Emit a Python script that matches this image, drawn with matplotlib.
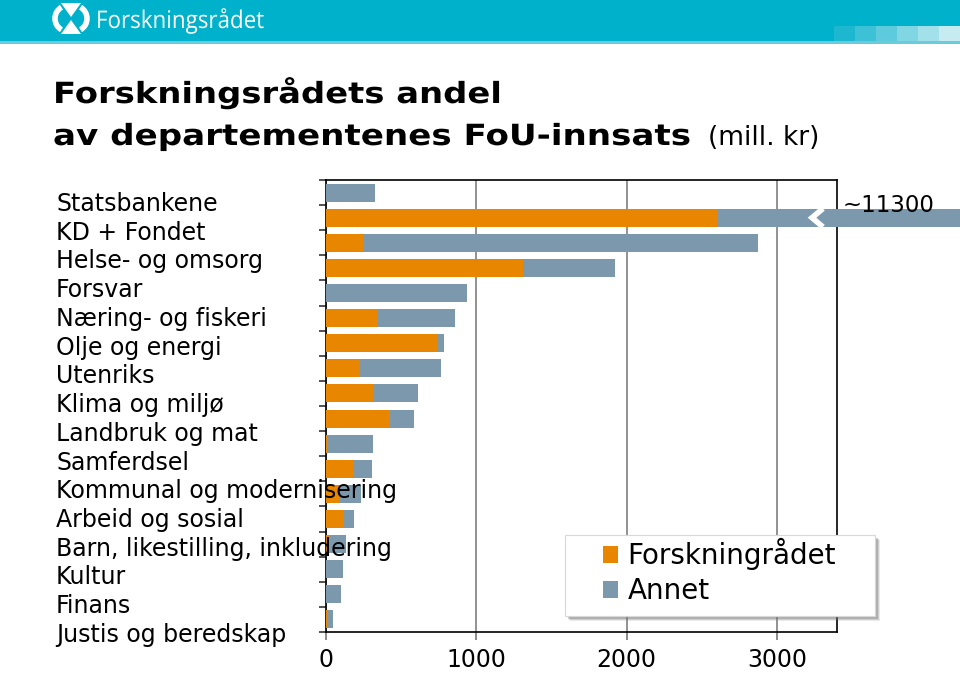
import matplotlib
matplotlib.use("Agg")
import matplotlib.pyplot as plt
import numpy as np
from matplotlib.patches import Rectangle, Polygon, Arc
from matplotlib.patheffects import AbstractPathEffect
from matplotlib.transforms import Affine2D

# ---------------- data ----------------
labels = ["Statsbankene", "KD + Fondet", "Helse- og omsorg", "Forsvar",
          "Næring- og fiskeri", "Olje og energi", "Utenriks", "Klima og miljø",
          "Landbruk og mat", "Samferdsel", "Kommunal og modernisering",
          "Arbeid og sosial", "Barn, likestilling, inkludering", "Kultur",
          "Finans", "Justis og beredskap"]
forskningsradet = [0, 2610, 255, 1309, 0, 346, 745, 226, 319, 428, 10, 188, 93, 120, 25, 0, 0, 10]
annet = [325, 8690, 2619, 616, 940, 510, 42, 539, 295, 155, 305, 118, 138, 68, 106, 115, 98, 35]
series_names = ["Forskningrådet", "Annet"]
xticks = [0, 1000, 2000, 3000]
broken_label = "~11300"
title_line1 = "Forskningsrådets andel"
title_line2 = "av departementenes FoU-innsats"
title_unit = "(mill. kr)"
logo_text = "Forskningsrådet"

ORANGE = "#E98600"
GREY = "#7C98AC"
TEAL = "#00B1CB"


class StretchX(AbstractPathEffect):
    """Stretch text horizontally (mimics letter-spaced text)."""
    def __init__(self, sx):
        super().__init__((0, 0))
        self.sx = sx

    def draw_path(self, renderer, gc, tpath, affine, rgbFace=None):
        renderer.draw_path(gc, tpath, Affine2D().scale(self.sx, 1.0) + affine, rgbFace)


W, H = 960, 676
fig = plt.figure(figsize=(W / 100, H / 100), dpi=100)
fig.patch.set_facecolor("white")

# ---------------- main axes ----------------
ax = fig.add_axes([326 / W, 1 - 632 / H, (837 - 326) / W, (632 - 180) / H])
n = len(annet)
ypos = np.arange(n)
bh = 0.72
b1 = ax.barh(ypos, forskningsradet, height=bh, color=ORANGE, label=series_names[0],
             zorder=3, clip_on=False, linewidth=0)
b2 = ax.barh(ypos, annet, left=forskningsradet, height=bh, color=GREY,
             label=series_names[1], zorder=3, clip_on=False, linewidth=0)
ax.set_xlim(0, 3400)
ax.set_ylim(n - 0.5, -0.5)

for s in ax.spines.values():
    s.set_color("black")
    s.set_linewidth(1.2)

ax.set_yticks(np.arange(-0.5, n, 1.0))
ax.tick_params(axis="y", direction="out", length=5, width=1.2, color="#333333",
               labelleft=False)
ax.set_xticks(xticks)
ax.set_xticklabels([str(v) for v in xticks], family="DejaVu Sans")
ax.tick_params(axis="x", direction="out", length=6, width=1.2, color="#777777",
               labelsize=17, pad=5.5)
ax.grid(axis="x", color="#7f7f7f", linewidth=1.2)
ax.set_axisbelow(True)

# ---------------- overlay in pixel coordinates ----------------
ov = fig.add_axes([0, 0, 1, 1])
ov.set_xlim(0, W)
ov.set_ylim(H, 0)
ov.axis("off")

# header band
ov.add_patch(Rectangle((0, 0), W, 41, color=TEAL, lw=0))
ov.add_patch(Rectangle((0, 41), W, 3, color="#6CCBDB", lw=0))
sq_cols = ["#1DB8CF", "#3DC1D6", "#5ECBDC", "#80D6E3", "#A3E1EA", "#C6ECF2"]
for i, c in enumerate(sq_cols):
    ov.add_patch(Rectangle((834 + i * 21, 26), 21, 15, color=c, lw=0))
# logo icon
ov.add_patch(Polygon([(61, 3), (81, 3), (71, 17)], closed=True, color="white", lw=0))
ov.add_patch(Polygon([(61, 34), (81, 34), (71, 20)], closed=True, color="white", lw=0))
ov.add_patch(Arc((68, 18.5), 26, 26, theta1=120, theta2=240, color="white", lw=4))
ov.add_patch(Arc((74, 18.5), 26, 26, theta1=-60, theta2=60, color="white", lw=4))
ov.text(96, 28, logo_text, color="white", fontsize=17.5, family="Open Sans",
        va="baseline", ha="left", path_effects=[StretchX(0.92)])

# title
ov.text(53, 103, title_line1, fontsize=21, fontweight="bold", family="DejaVu Sans",
        va="baseline", ha="left", path_effects=[StretchX(1.16)])
ov.text(53, 145, title_line2, fontsize=21, fontweight="bold", family="DejaVu Sans",
        va="baseline", ha="left", path_effects=[StretchX(1.17)])
ov.text(708, 145, title_unit, fontsize=19, family="DejaVu Sans",
        va="baseline", ha="left")

# category labels (text box on the left)
for i, lab in enumerate(labels):
    ov.text(56, 211 + i * 28.73, lab, fontsize=17, family="DejaVu Sans",
            va="baseline", ha="left", color="black")

# broken bar marker and value
ov.plot([823, 812, 823], [208.5, 217.7, 227], color="white", lw=4,
        solid_joinstyle="miter", solid_capstyle="butt")
ov.text(843, 211.5, broken_label, fontsize=16.5, family="DejaVu Sans",
        va="baseline", ha="left")

# legend frame with shadow
for k, a in [(5, 0.15), (4, 0.25), (3, 0.35)]:
    ov.add_patch(Rectangle((565 + k, 535 + k), 310, 81, color="#777777", alpha=a, lw=0))
ov.add_patch(Rectangle((565, 535), 310, 81, facecolor="white", edgecolor="#d8d8d8", lw=0.8))

fig.legend(handles=[b1, b2], labels=series_names, loc="upper left",
           bbox_to_anchor=(603 / W, 1 - 538 / H), frameon=False,
           prop={"family": "DejaVu Sans", "size": 20},
           handlelength=0.54, handleheight=0.54, handletextpad=0.35,
           labelspacing=0.25, borderpad=0, borderaxespad=0)

fig.savefig("out.png", dpi=100)
